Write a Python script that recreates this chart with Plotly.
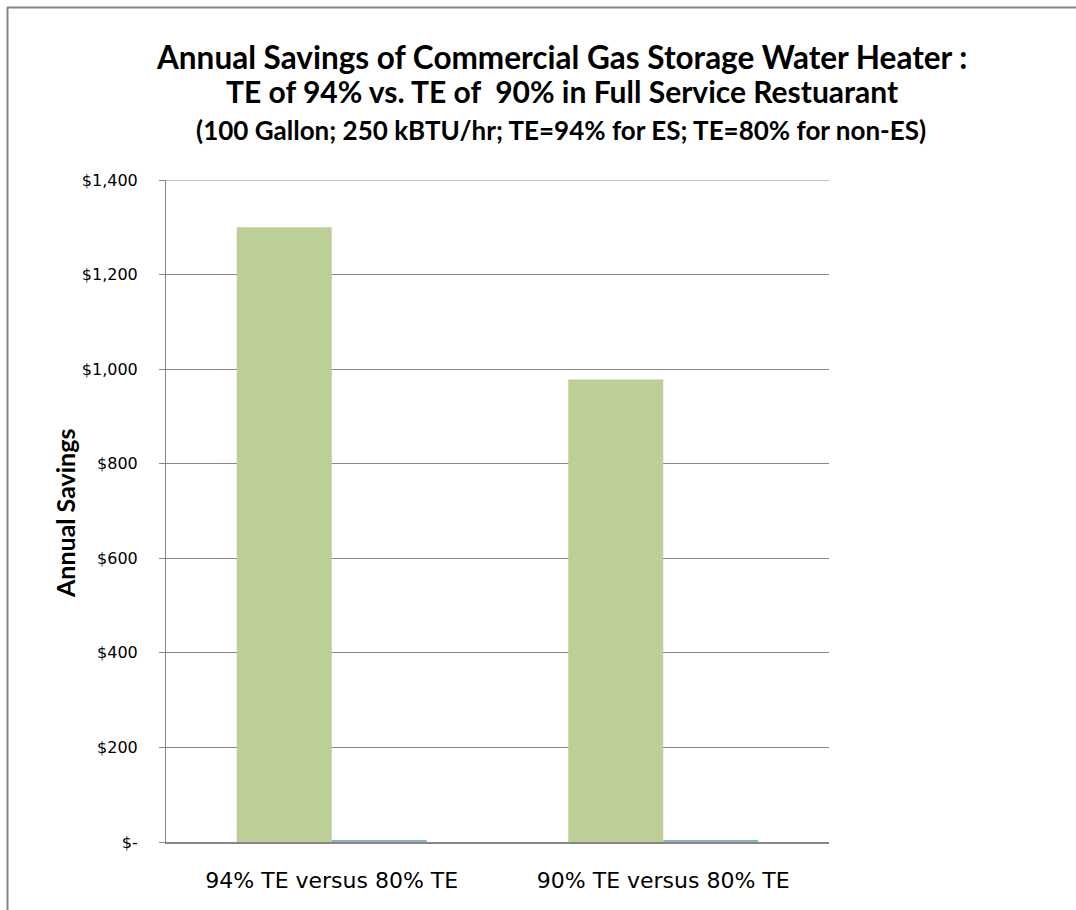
import plotly.graph_objects as go

categories = ["94% TE versus 80% TE", "90% TE versus 80% TE"]
savings_main = [1300, 978]
savings_second = [3, 3]
tick_vals = [0, 200, 400, 600, 800, 1000, 1200, 1400]
tick_text = ["$-", "$200", "$400", "$600", "$800", "$1,000", "$1,200", "$1,400"]
y_max = 1400

title_line1 = "Annual Savings of Commercial Gas Storage Water Heater :"
title_line2 = "TE of 94% vs. TE of  90% in Full Service Restuarant"
title_line3 = "(100 Gallon; 250 kBTU/hr; TE=94% for ES; TE=80% for non-ES)"
y_title = "Annual Savings"

W, H = 1076, 910
L, R, T, B = 166, 247, 180, 68
pw = W - L - R
ph = H - T - B

def px(x):
    return (x - L) / pw

def py(y):
    return (H - B - y) / ph

grid_col = "#878787"
title_font = "Lato"

fig = go.Figure()
fig.add_trace(go.Bar(x=categories, y=savings_main, marker=dict(color="#bbcf97", line=dict(width=0)),
                     showlegend=False, hoverinfo="y"))
fig.add_trace(go.Bar(x=categories, y=savings_second, marker=dict(color="#86b4cf", line=dict(width=0)),
                     showlegend=False, hoverinfo="y"))

fig.update_layout(
    width=W, height=H,
    margin=dict(l=L, r=R, t=T, b=B, autoexpand=False),
    paper_bgcolor="white", plot_bgcolor="white",
    barmode="group", bargap=0.427, bargroupgap=0,
    xaxis=dict(type="category", showgrid=False, showline=True, linecolor=grid_col, linewidth=2,
               ticks="", tickfont=dict(family="DejaVu Sans", size=22, color="black"),
               ticklabelstandoff=18),
    yaxis=dict(range=[0, y_max], tickvals=tick_vals, ticktext=tick_text, showgrid=True,
               gridcolor=grid_col, gridwidth=1, showline=True, linecolor=grid_col, linewidth=1,
               ticks="outside", ticklen=6, tickcolor=grid_col, zeroline=False,
               tickfont=dict(family="DejaVu Sans", size=16, color="black"),
               ticklabelstandoff=18),
    font=dict(family="DejaVu Sans", color="black"),
)

# top gridline at the range edge
fig.add_shape(type="line", xref="paper", yref="y", x0=0, x1=1, y0=y_max, y1=y_max,
              line=dict(color=grid_col, width=1), layer="below")

annots = [
    dict(text="<b>" + title_line1 + "</b>", x=px(561), y=py(57), size=31.5),
    dict(text="<b>" + title_line2 + "</b>", x=px(562), y=py(91), size=30),
    dict(text="<b>" + title_line3 + "</b>", x=px(561), y=py(130), size=26),
]
for a in annots:
    fig.add_annotation(text=a["text"], x=a["x"], y=a["y"], xref="paper", yref="paper",
                       xanchor="center", yanchor="middle", showarrow=False,
                       font=dict(family=title_font, size=a["size"], color="black"))

fig.add_annotation(text="<b>" + y_title + "</b>", x=px(65), y=py(514), xref="paper", yref="paper",
                   xanchor="center", yanchor="middle", showarrow=False, textangle=-90,
                   font=dict(family=title_font, size=25, color="black"))

# outer chart frame
fig.add_shape(type="line", xref="paper", yref="paper", x0=px(7), x1=px(1080), y0=py(7.5), y1=py(7.5),
              line=dict(color=grid_col, width=2))
fig.add_shape(type="line", xref="paper", yref="paper", x0=px(7.5), x1=px(7.5), y0=py(7), y1=py(915),
              line=dict(color=grid_col, width=2))

fig.write_html("out.html", config={"displayModeBar": False},
               post_script="document.body.style.margin='0';document.body.style.overflow='hidden';")
